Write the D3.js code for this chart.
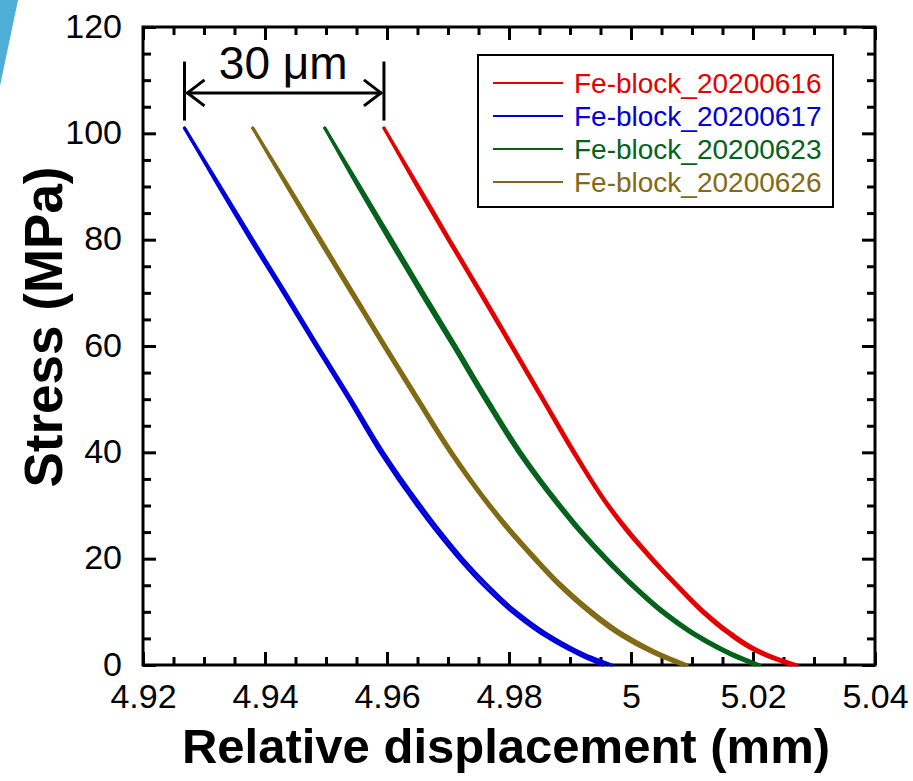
<!DOCTYPE html>
<html>
<head>
<meta charset="utf-8">
<script src="https://cdn.jsdelivr.net/npm/d3@7"></script>
<style>
  body { margin: 0; background: #fff; }
  svg text { font-family: "Liberation Sans", Arial, sans-serif; }
</style>
</head>
<body>
<div id="chart"></div>
<script>
// stress levels (MPa) at which the displacement of every curve was read
const stressLevels = [101, 90, 80, 70, 60, 50, 40, 30, 25, 20, 15, 10, 6, 3, 1.5, 0];

// relative displacement (mm), unloading branch and loading branch
const disp0616Unload = [4.9595, 4.9652, 4.9703, 4.9755, 4.9806, 4.9857, 4.9908, 4.9964, 4.9998, 5.0036, 5.0077, 5.0121, 5.0164, 5.0205, 5.0234, 5.0272];
const disp0616Load   = [4.9595, 4.9649, 4.9700, 4.9752, 4.9803, 4.9854, 4.9905, 4.9961, 4.9994, 5.0032, 5.0073, 5.0116, 5.0158, 5.0198, 5.0226, 5.0262];
const disp0617Unload = [4.9268, 4.9327, 4.9380, 4.9434, 4.9487, 4.9541, 4.9594, 4.9655, 4.9688, 4.9724, 4.9765, 4.9812, 4.9860, 4.9906, 4.9934, 4.9968];
const disp0617Load   = [4.9268, 4.9324, 4.9376, 4.9430, 4.9483, 4.9537, 4.9589, 4.9649, 4.9682, 4.9718, 4.9758, 4.9805, 4.9852, 4.9897, 4.9923, 4.9954];
const disp0623Unload = [4.9498, 4.9556, 4.9608, 4.9660, 4.9713, 4.9765, 4.9820, 4.9885, 4.9921, 4.9961, 5.0005, 5.0055, 5.0104, 5.0151, 5.0179, 5.0211];
const disp0623Load   = [4.9498, 4.9552, 4.9603, 4.9655, 4.9708, 4.9760, 4.9815, 4.9880, 4.9916, 4.9956, 5.0000, 5.0049, 5.0098, 5.0144, 5.0171, 5.0203];
const disp0626Unload = [4.9380, 4.9439, 4.9492, 4.9545, 4.9598, 4.9652, 4.9707, 4.9770, 4.9806, 4.9845, 4.9887, 4.9937, 4.9985, 5.0032, 5.0060, 5.0092];
const disp0626Load   = [4.9380, 4.9436, 4.9488, 4.9541, 4.9594, 4.9648, 4.9703, 4.9766, 4.9801, 4.9840, 4.9881, 4.9930, 4.9977, 5.0023, 5.0051, 5.0084];

const seriesNames = ['Fe-block_20200616', 'Fe-block_20200617', 'Fe-block_20200623', 'Fe-block_20200626'];
const seriesColors = ['#e40000', '#0000dc', '#05621c', '#826a14'];

const xTicks = [4.92, 4.94, 4.96, 4.98, 5, 5.02, 5.04];
const xTickLabels = ['4.92', '4.94', '4.96', '4.98', '5', '5.02', '5.04'];
const yTicks = [0, 20, 40, 60, 80, 100, 120];

const width = 913, height = 781;
const plot = { left: 143, right: 875, top: 27, bottom: 665 };

const svg = d3.select('#chart')
  .append('svg')
  .attr('width', width)
  .attr('height', height);

// slide decoration in the top-left corner
svg.append('path')
  .attr('d', 'M0,0 L18,0 L0,86 Z')
  .attr('fill', '#4eaed6');

const x = d3.scaleLinear().domain([4.92, 5.04]).range([plot.left, plot.right]);
const y = d3.scaleLinear().domain([0, 120]).range([plot.bottom, plot.top]);

const xMinor = d3.range(4.92, 5.0401, 0.005).filter(v => !xTicks.some(t => Math.abs(t - v) < 1e-6));
const yMinor = d3.range(0, 120.1, 5).filter(v => v % 20 !== 0);

const major = 13, minor = 8;

function styleAxis(g) {
  g.select('.domain').remove();
  g.selectAll('.tick line').attr('stroke', '#000').attr('stroke-width', 3);
  g.selectAll('.tick text').attr('font-size', 34).attr('fill', '#000')
    .attr('font-family', '"Liberation Sans", Arial, sans-serif');
}

// bottom axis
svg.append('g')
  .attr('transform', `translate(0,${plot.bottom})`)
  .call(d3.axisBottom(x).tickValues(xTicks).tickSize(-major).tickPadding(19)
    .tickFormat((d, i) => xTickLabels[i]))
  .call(styleAxis);
svg.append('g')
  .attr('transform', `translate(0,${plot.bottom})`)
  .call(d3.axisBottom(x).tickValues(xMinor).tickSize(-minor).tickFormat(''))
  .call(styleAxis);
// top axis
svg.append('g')
  .attr('transform', `translate(0,${plot.top})`)
  .call(d3.axisTop(x).tickValues(xTicks).tickSize(-major).tickFormat(''))
  .call(styleAxis);
svg.append('g')
  .attr('transform', `translate(0,${plot.top})`)
  .call(d3.axisTop(x).tickValues(xMinor).tickSize(-minor).tickFormat(''))
  .call(styleAxis);
// left axis
const leftAxis = svg.append('g')
  .attr('transform', `translate(${plot.left},0)`)
  .call(d3.axisLeft(y).tickValues(yTicks).tickSize(-major).tickPadding(21))
  .call(styleAxis);
leftAxis.selectAll('.tick text').attr('dy', '0.3em');
svg.append('g')
  .attr('transform', `translate(${plot.left},0)`)
  .call(d3.axisLeft(y).tickValues(yMinor).tickSize(-minor).tickFormat(''))
  .call(styleAxis);
// right axis
svg.append('g')
  .attr('transform', `translate(${plot.right},0)`)
  .call(d3.axisRight(y).tickValues(yTicks).tickSize(-major).tickFormat(''))
  .call(styleAxis);
svg.append('g')
  .attr('transform', `translate(${plot.right},0)`)
  .call(d3.axisRight(y).tickValues(yMinor).tickSize(-minor).tickFormat(''))
  .call(styleAxis);

// frame
svg.append('rect')
  .attr('x', plot.left).attr('y', plot.top)
  .attr('width', plot.right - plot.left).attr('height', plot.bottom - plot.top)
  .attr('fill', 'none').attr('stroke', '#000').attr('stroke-width', 3);

// curves
const branches = [
  [disp0616Unload, disp0616Load],
  [disp0617Unload, disp0617Load],
  [disp0623Unload, disp0623Load],
  [disp0626Unload, disp0626Load]
];

const line = d3.line()
  .x(d => x(d[0]))
  .y(d => y(d[1]))
  .curve(d3.curveMonotoneY);

branches.forEach((b, i) => {
  b.forEach(arr => {
    const pts = arr.map((v, k) => [v, stressLevels[k]]);
    svg.append('path')
      .attr('d', line(pts))
      .attr('fill', 'none')
      .attr('stroke', seriesColors[i])
      .attr('stroke-width', 3.1)
      .attr('stroke-linejoin', 'round')
      .attr('stroke-linecap', 'round');
  });
});

// 30 um annotation between the first and last curve tops
const annLeft = x(disp0617Unload[0]);
const annRight = x(disp0616Unload[0]);
const annTop = y(113.5), annBottom = y(102.4), annMid = y(107.6);
const ann = svg.append('g').attr('stroke', '#000').attr('stroke-width', 3).attr('fill', 'none');
ann.append('line').attr('x1', annLeft).attr('x2', annLeft).attr('y1', annTop).attr('y2', annBottom);
ann.append('line').attr('x1', annRight).attr('x2', annRight).attr('y1', annTop).attr('y2', annBottom);
ann.append('line').attr('x1', annLeft + 2).attr('x2', annRight - 2).attr('y1', annMid).attr('y2', annMid);
ann.append('path').attr('d', `M${annLeft + 20},${annMid - 13} L${annLeft + 3},${annMid} L${annLeft + 20},${annMid + 13}`);
ann.append('path').attr('d', `M${annRight - 20},${annMid - 13} L${annRight - 3},${annMid} L${annRight - 20},${annMid + 13}`);
svg.append('text')
  .attr('x', (annLeft + annRight) / 2 - 1)
  .attr('y', y(110.3))
  .attr('text-anchor', 'middle')
  .attr('font-size', 46)
  .text('30 μm');

// legend
const legend = svg.append('g');
legend.append('rect')
  .attr('x', 478).attr('y', 55).attr('width', 355).attr('height', 152)
  .attr('fill', '#fff').attr('stroke', '#000').attr('stroke-width', 2);
seriesNames.forEach((name, i) => {
  const cy = 83 + i * 33;
  legend.append('line')
    .attr('x1', 493).attr('x2', 563).attr('y1', cy).attr('y2', cy)
    .attr('stroke', seriesColors[i]).attr('stroke-width', 2);
  legend.append('text')
    .attr('x', 574).attr('y', cy)
    .attr('dy', '0.35em')
    .attr('font-size', 28)
    .attr('fill', seriesColors[i])
    .text(name);
});

// axis titles
svg.append('text')
  .attr('x', 506)
  .attr('y', 763)
  .attr('text-anchor', 'middle')
  .attr('font-size', 49)
  .attr('font-weight', 'bold')
  .text('Relative displacement (mm)');

svg.append('text')
  .attr('transform', 'translate(62,327) rotate(-90)')
  .attr('text-anchor', 'middle')
  .attr('font-size', 53)
  .attr('font-weight', 'bold')
  .text('Stress (MPa)');
</script>
</body>
</html>
